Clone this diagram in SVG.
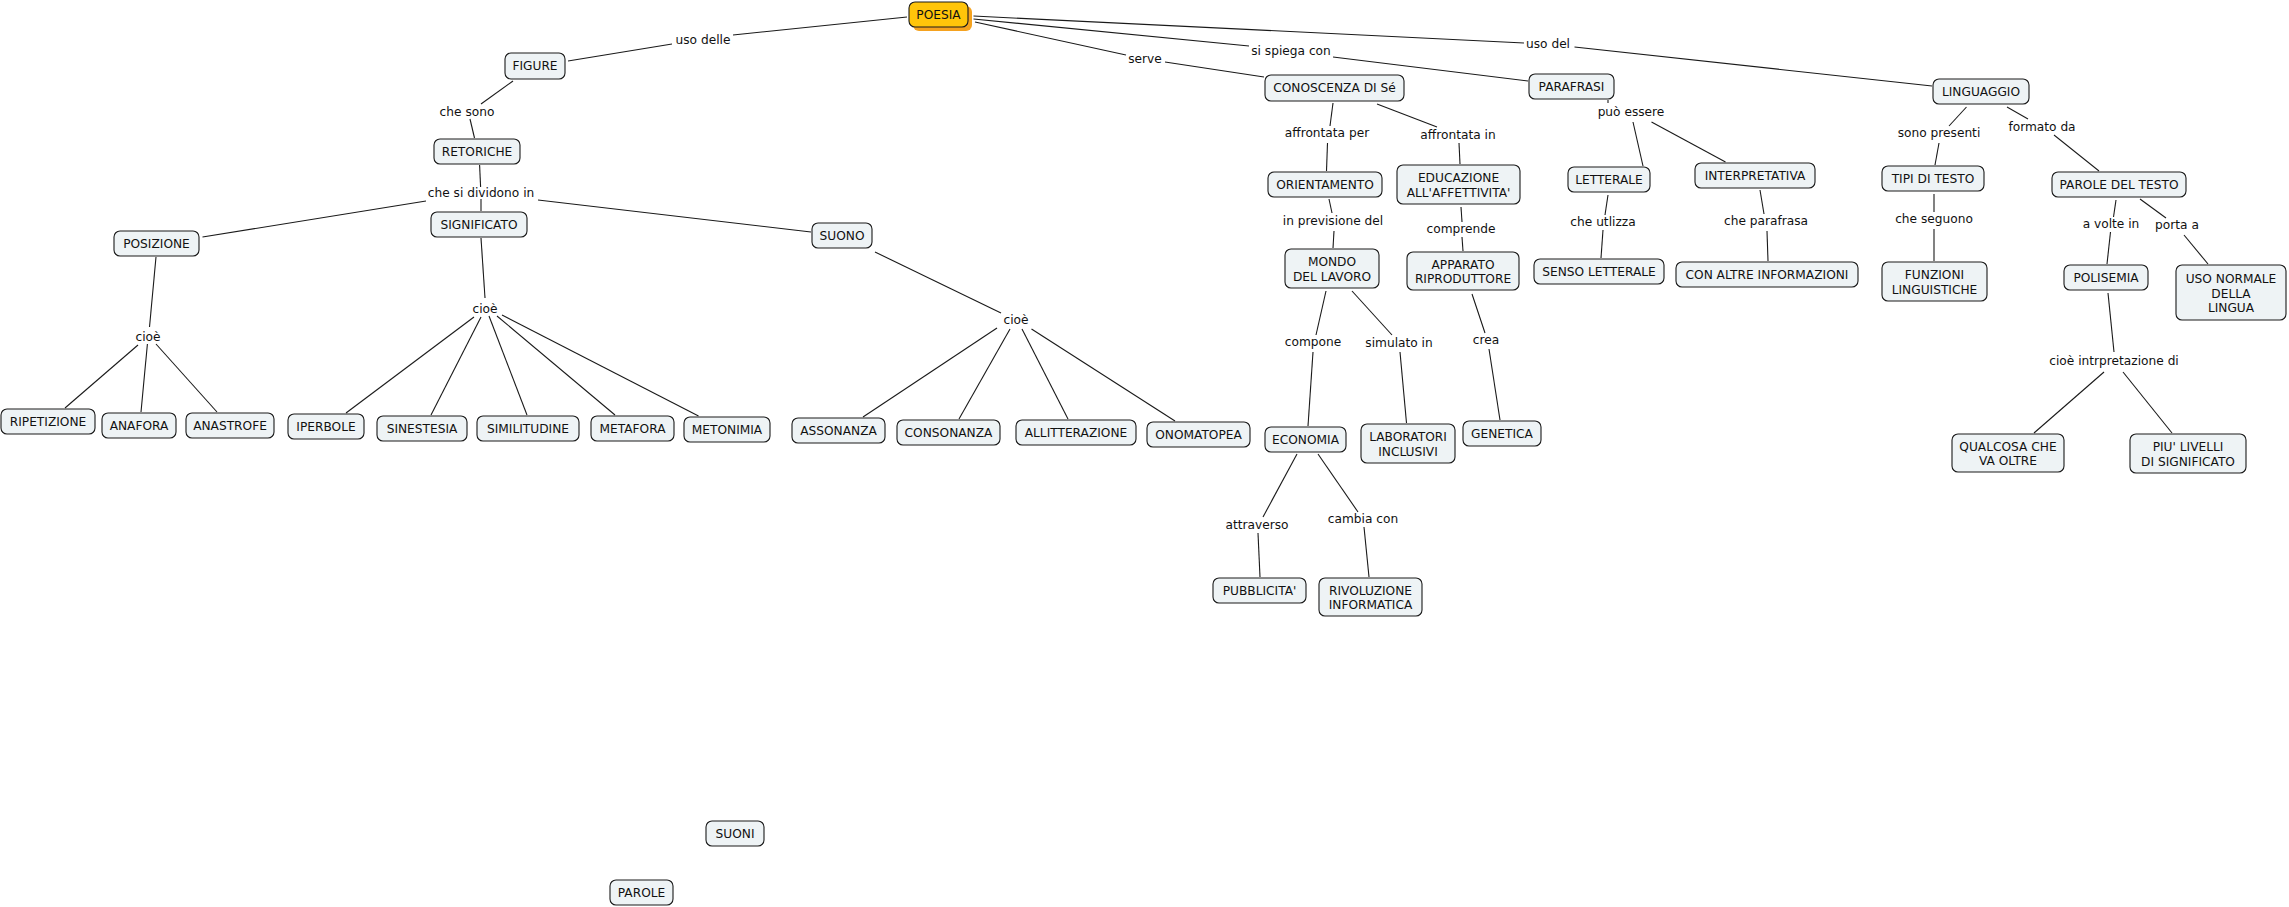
<svg xmlns="http://www.w3.org/2000/svg" width="2289" height="907" viewBox="0 0 2289 907">
<style>
.n{fill:#EEF3F5;stroke:#1a1a1a;stroke-width:1.1}
.t{font-family:"DejaVu Sans","Verdana",sans-serif;font-size:12.2px;fill:#111;text-anchor:middle}
.l{font-family:"DejaVu Sans","Verdana",sans-serif;font-size:12.2px;fill:#111;text-anchor:middle}
.c line{stroke:#1a1a1a;stroke-width:1.1}
</style>
<rect width="2289" height="907" fill="#fff"/>
<g id="connectors" class="c">
<line x1="568" y1="61" x2="672" y2="44"/><line x1="733" y1="35" x2="907" y2="17"/>
<line x1="513" y1="81" x2="481" y2="104"/><line x1="470" y1="119" x2="474.5" y2="138"/>
<line x1="479.6" y1="165" x2="480.6" y2="187"/><line x1="481" y1="199" x2="481" y2="211"/>
<line x1="426" y1="201" x2="202.5" y2="237"/>
<line x1="538" y1="200" x2="811" y2="232"/>
<line x1="156" y1="257" x2="149.5" y2="327"/>
<line x1="138" y1="345" x2="65" y2="408"/>
<line x1="147.4" y1="344" x2="141" y2="412"/>
<line x1="156" y1="344" x2="217" y2="412"/>
<line x1="481" y1="238" x2="485" y2="298"/>
<line x1="474" y1="317" x2="346" y2="413"/>
<line x1="481" y1="317" x2="431" y2="415"/>
<line x1="489" y1="316" x2="527" y2="415"/>
<line x1="497" y1="316" x2="615" y2="415"/>
<line x1="502" y1="315" x2="698.5" y2="416"/>
<line x1="875" y1="252" x2="1001" y2="313"/>
<line x1="997" y1="328" x2="863" y2="417"/>
<line x1="1010" y1="329" x2="959" y2="419"/>
<line x1="1022" y1="329" x2="1068" y2="419"/>
<line x1="1031.5" y1="329" x2="1175" y2="421"/>
<line x1="975" y1="22" x2="1126" y2="55"/><line x1="1165" y1="62" x2="1264" y2="77"/>
<line x1="973.5" y1="19" x2="1249" y2="46"/><line x1="1333" y1="57" x2="1528" y2="81"/>
<line x1="973.5" y1="16" x2="1524" y2="43"/><line x1="1574.5" y1="47" x2="1932" y2="86"/>
<line x1="1333" y1="103" x2="1330" y2="126"/><line x1="1327.5" y1="143" x2="1326.5" y2="171"/>
<line x1="1377" y1="104" x2="1437" y2="127"/><line x1="1459" y1="143" x2="1460" y2="164"/>
<line x1="1329" y1="199" x2="1332" y2="213"/><line x1="1334" y1="231" x2="1333" y2="248"/>
<line x1="1461" y1="207" x2="1462" y2="222"/><line x1="1462" y1="237" x2="1463" y2="251"/>
<line x1="1326" y1="291" x2="1316" y2="335"/><line x1="1313" y1="352" x2="1308" y2="426"/>
<line x1="1352" y1="291" x2="1392" y2="335"/><line x1="1400" y1="352" x2="1406.5" y2="423"/>
<line x1="1472" y1="294" x2="1485" y2="333"/><line x1="1489" y1="349" x2="1500" y2="420"/>
<line x1="1297" y1="454" x2="1263" y2="517"/><line x1="1258" y1="533" x2="1260" y2="577"/>
<line x1="1318" y1="454" x2="1358" y2="512"/><line x1="1364" y1="527" x2="1369" y2="577"/>
<line x1="1608" y1="100" x2="1608" y2="103"/>
<line x1="1633" y1="122" x2="1643" y2="166"/>
<line x1="1651.5" y1="122" x2="1725.5" y2="162"/>
<line x1="1608" y1="195" x2="1605" y2="215"/><line x1="1603" y1="230" x2="1601" y2="258"/>
<line x1="1760" y1="190" x2="1764" y2="214"/><line x1="1767" y1="231" x2="1768" y2="261"/>
<line x1="1966.5" y1="107" x2="1949" y2="126"/><line x1="1939" y1="143" x2="1935" y2="165"/>
<line x1="2007" y1="107" x2="2028" y2="119"/><line x1="2054" y1="135" x2="2099" y2="171"/>
<line x1="1934" y1="194" x2="1934" y2="212"/><line x1="1934" y1="229" x2="1934" y2="261"/>
<line x1="2116" y1="200" x2="2113.5" y2="217"/><line x1="2110.5" y1="232" x2="2107" y2="264"/>
<line x1="2140" y1="199" x2="2166" y2="218"/><line x1="2184" y1="235" x2="2208" y2="264"/>
<line x1="2108" y1="293" x2="2114" y2="352"/>
<line x1="2104" y1="372" x2="2034" y2="433"/>
<line x1="2123" y1="372" x2="2172" y2="433"/>
</g>
<g id="labels">
<text class="l" x="703" y="43.5">uso delle</text>
<text class="l" x="467" y="115.5">che sono</text>
<text class="l" x="481" y="196.5">che si dividono in</text>
<text class="l" x="148" y="340.5">cioè</text>
<text class="l" x="485" y="312.5">cioè</text>
<text class="l" x="1016" y="323.5">cioè</text>
<text class="l" x="1145" y="63">serve</text>
<text class="l" x="1291" y="55">si spiega con</text>
<text class="l" x="1548" y="48">uso del</text>
<text class="l" x="1327" y="137">affrontata per</text>
<text class="l" x="1458" y="139">affrontata in</text>
<text class="l" x="1333" y="225">in previsione del</text>
<text class="l" x="1461" y="233">comprende</text>
<text class="l" x="1313" y="346">compone</text>
<text class="l" x="1399" y="347">simulato in</text>
<text class="l" x="1486" y="344">crea</text>
<text class="l" x="1257" y="529">attraverso</text>
<text class="l" x="1363" y="523">cambia con</text>
<text class="l" x="1631" y="116">può essere</text>
<text class="l" x="1603" y="226">che utlizza</text>
<text class="l" x="1766" y="225">che parafrasa</text>
<text class="l" x="1939" y="137">sono presenti</text>
<text class="l" x="2042" y="131">formato da</text>
<text class="l" x="1934" y="223">che seguono</text>
<text class="l" x="2111" y="228">a volte in</text>
<text class="l" x="2177" y="229">porta a</text>
<text class="l" x="2114" y="365">cioè intrpretazione di</text>
</g>
<g id="POESIA"><rect x="913" y="6" width="59" height="25" rx="6" fill="#F5A21F"/><rect x="909" y="2" width="59" height="25" rx="6" fill="#FFC50A" stroke="#1a1a1a" stroke-width="1.1"/><text class="t" x="938.5" y="18.9">POESIA</text></g>
<g id="FIGURE"><rect class="n" x="505" y="53" width="60" height="26" rx="6"/><text class="t" x="535" y="70.4">FIGURE</text></g>
<g id="RETORICHE"><rect class="n" x="434" y="139" width="86" height="25" rx="6"/><text class="t" x="477" y="155.9">RETORICHE</text></g>
<g id="SIGNIFICATO"><rect class="n" x="431" y="212" width="96" height="25" rx="6"/><text class="t" x="479" y="228.9">SIGNIFICATO</text></g>
<g id="POSIZIONE"><rect class="n" x="114" y="231" width="85" height="25" rx="6"/><text class="t" x="156.5" y="247.9">POSIZIONE</text></g>
<g id="SUONO"><rect class="n" x="812" y="223" width="60" height="25" rx="6"/><text class="t" x="842" y="239.9">SUONO</text></g>
<g id="RIPETIZIONE"><rect class="n" x="1" y="409" width="94" height="25" rx="6"/><text class="t" x="48" y="425.9">RIPETIZIONE</text></g>
<g id="ANAFORA"><rect class="n" x="102" y="413" width="74" height="25" rx="6"/><text class="t" x="139" y="429.9">ANAFORA</text></g>
<g id="ANASTROFE"><rect class="n" x="186" y="413" width="88" height="25" rx="6"/><text class="t" x="230" y="429.9">ANASTROFE</text></g>
<g id="IPERBOLE"><rect class="n" x="288" y="414" width="76" height="25" rx="6"/><text class="t" x="326" y="430.9">IPERBOLE</text></g>
<g id="SINESTESIA"><rect class="n" x="377" y="416" width="90" height="25" rx="6"/><text class="t" x="422" y="432.9">SINESTESIA</text></g>
<g id="SIMILITUDINE"><rect class="n" x="477" y="416" width="102" height="25" rx="6"/><text class="t" x="528" y="432.9">SIMILITUDINE</text></g>
<g id="METAFORA"><rect class="n" x="591" y="416" width="83" height="25" rx="6"/><text class="t" x="632.5" y="432.9">METAFORA</text></g>
<g id="METONIMIA"><rect class="n" x="684" y="417" width="86" height="25" rx="6"/><text class="t" x="727" y="433.9">METONIMIA</text></g>
<g id="ASSONANZA"><rect class="n" x="792" y="418" width="93" height="25" rx="6"/><text class="t" x="838.5" y="434.9">ASSONANZA</text></g>
<g id="CONSONANZA"><rect class="n" x="897" y="420" width="103" height="25" rx="6"/><text class="t" x="948.5" y="436.9">CONSONANZA</text></g>
<g id="ALLITTERAZIONE"><rect class="n" x="1016" y="420" width="120" height="25" rx="6"/><text class="t" x="1076" y="436.9">ALLITTERAZIONE</text></g>
<g id="ONOMATOPEA"><rect class="n" x="1147" y="422" width="103" height="25" rx="6"/><text class="t" x="1198.5" y="438.9">ONOMATOPEA</text></g>
<g id="CONOSCENZA"><rect class="n" x="1265" y="75" width="139" height="26" rx="6"/><text class="t" x="1334.5" y="92.4">CONOSCENZA DI Sé</text></g>
<g id="ORIENTAMENTO"><rect class="n" x="1268" y="172" width="114" height="25" rx="6"/><text class="t" x="1325" y="188.9">ORIENTAMENTO</text></g>
<g id="EDUCAZIONE"><rect class="n" x="1397" y="165" width="123" height="39" rx="6"/><text class="t" x="1458.5" y="182"><tspan x="1458.5">EDUCAZIONE</tspan><tspan x="1458.5" dy="14.6">ALL'AFFETTIVITA'</tspan></text></g>
<g id="MONDO"><rect class="n" x="1285" y="249" width="94" height="39" rx="6"/><text class="t" x="1332" y="266"><tspan x="1332">MONDO</tspan><tspan x="1332" dy="14.6">DEL LAVORO</tspan></text></g>
<g id="APPARATO"><rect class="n" x="1407" y="252" width="112" height="38" rx="6"/><text class="t" x="1463" y="268.7"><tspan x="1463">APPARATO</tspan><tspan x="1463" dy="14.6">RIPRODUTTORE</tspan></text></g>
<g id="ECONOMIA"><rect class="n" x="1265" y="427" width="81" height="25" rx="6"/><text class="t" x="1305.5" y="443.9">ECONOMIA</text></g>
<g id="LABORATORI"><rect class="n" x="1361" y="424" width="94" height="39" rx="6"/><text class="t" x="1408" y="441"><tspan x="1408">LABORATORI</tspan><tspan x="1408" dy="14.6">INCLUSIVI</tspan></text></g>
<g id="GENETICA"><rect class="n" x="1463" y="421" width="78" height="25" rx="6"/><text class="t" x="1502" y="437.9">GENETICA</text></g>
<g id="PUBBLICITA"><rect class="n" x="1213" y="578" width="93" height="25" rx="6"/><text class="t" x="1259.5" y="594.9">PUBBLICITA'</text></g>
<g id="RIVOLUZIONE"><rect class="n" x="1319" y="578" width="103" height="38" rx="6"/><text class="t" x="1370.5" y="594.7"><tspan x="1370.5">RIVOLUZIONE</tspan><tspan x="1370.5" dy="14.6">INFORMATICA</tspan></text></g>
<g id="PARAFRASI"><rect class="n" x="1529" y="74" width="85" height="25" rx="6"/><text class="t" x="1571.5" y="90.9">PARAFRASI</text></g>
<g id="LETTERALE"><rect class="n" x="1568" y="167" width="82" height="25" rx="6"/><text class="t" x="1609" y="183.9">LETTERALE</text></g>
<g id="INTERPRETATIVA"><rect class="n" x="1695" y="163" width="120" height="25" rx="6"/><text class="t" x="1755" y="179.9">INTERPRETATIVA</text></g>
<g id="SENSO_LETTERALE"><rect class="n" x="1534" y="259" width="130" height="25" rx="6"/><text class="t" x="1599" y="275.9">SENSO LETTERALE</text></g>
<g id="CON_ALTRE"><rect class="n" x="1676" y="262" width="182" height="25" rx="6"/><text class="t" x="1767" y="278.9">CON ALTRE INFORMAZIONI</text></g>
<g id="LINGUAGGIO"><rect class="n" x="1933" y="79" width="96" height="25" rx="6"/><text class="t" x="1981" y="95.9">LINGUAGGIO</text></g>
<g id="TIPI"><rect class="n" x="1882" y="166" width="102" height="25" rx="6"/><text class="t" x="1933" y="182.9">TIPI DI TESTO</text></g>
<g id="FUNZIONI"><rect class="n" x="1882" y="262" width="105" height="39" rx="6"/><text class="t" x="1934.5" y="279"><tspan x="1934.5">FUNZIONI</tspan><tspan x="1934.5" dy="14.6">LINGUISTICHE</tspan></text></g>
<g id="PAROLE_TESTO"><rect class="n" x="2052" y="172" width="134" height="25" rx="6"/><text class="t" x="2119" y="188.9">PAROLE DEL TESTO</text></g>
<g id="POLISEMIA"><rect class="n" x="2064" y="265" width="84" height="25" rx="6"/><text class="t" x="2106" y="281.9">POLISEMIA</text></g>
<g id="USO_NORMALE"><rect class="n" x="2176" y="265" width="110" height="55" rx="6"/><text class="t" x="2231" y="283.4"><tspan x="2231">USO NORMALE</tspan><tspan x="2231" dy="14.4">DELLA</tspan><tspan x="2231" dy="14.4">LINGUA</tspan></text></g>
<g id="QUALCOSA"><rect class="n" x="1952" y="434" width="112" height="38" rx="6"/><text class="t" x="2008" y="450.7"><tspan x="2008">QUALCOSA CHE</tspan><tspan x="2008" dy="14.6">VA OLTRE</tspan></text></g>
<g id="PIU_LIVELLI"><rect class="n" x="2130" y="434" width="116" height="39" rx="6"/><text class="t" x="2188" y="451"><tspan x="2188">PIU' LIVELLI</tspan><tspan x="2188" dy="14.6">DI SIGNIFICATO</tspan></text></g>
<g id="SUONI"><rect class="n" x="706" y="821" width="58" height="25" rx="6"/><text class="t" x="735" y="837.9">SUONI</text></g>
<g id="PAROLE"><rect class="n" x="610" y="880" width="63" height="25" rx="6"/><text class="t" x="641.5" y="896.9">PAROLE</text></g>
</svg>
